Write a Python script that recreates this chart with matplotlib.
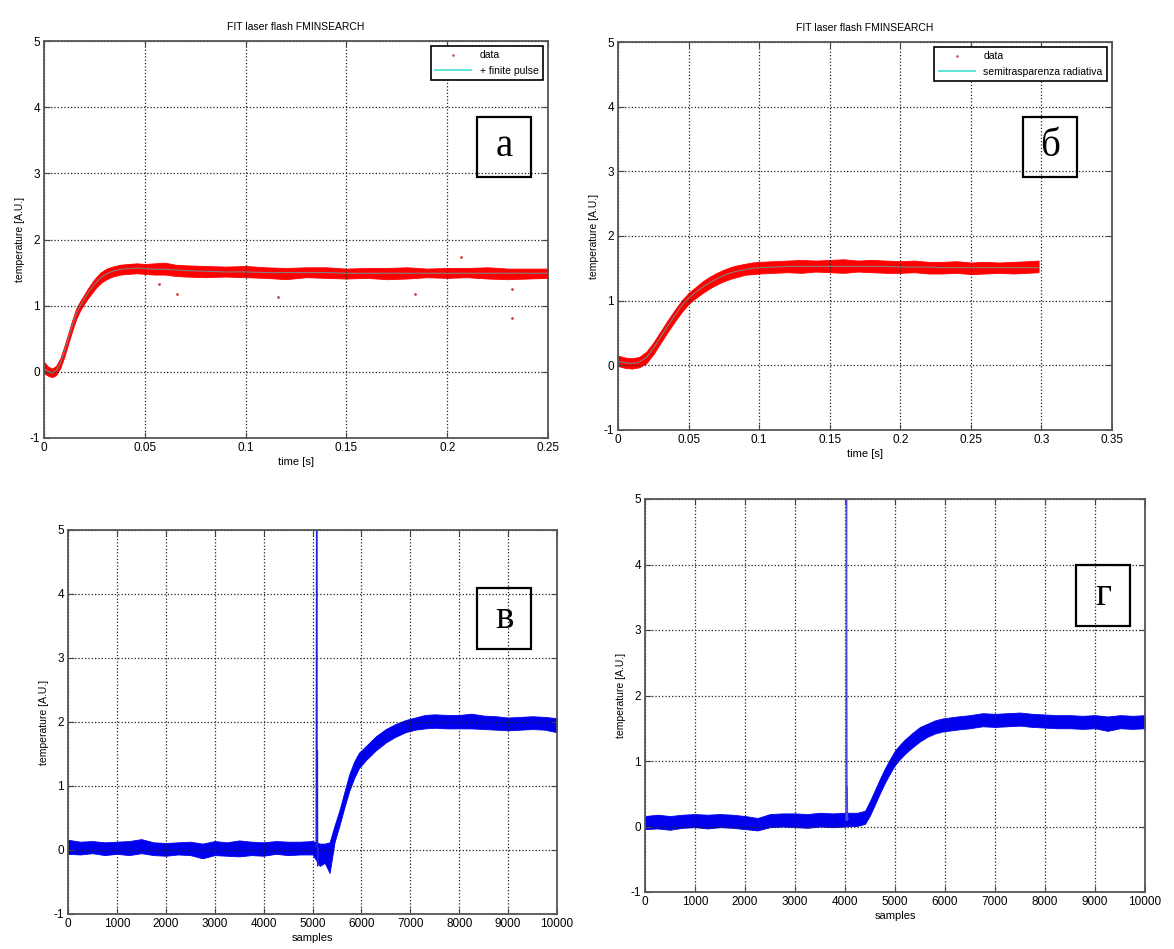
import matplotlib
matplotlib.use("Agg")
import matplotlib.pyplot as plt
from matplotlib.lines import Line2D
from matplotlib.patches import Rectangle

# ---- panel a: laser flash fit, finite pulse ----
a_t = [0, 0.002, 0.004, 0.006, 0.008, 0.010, 0.012, 0.014, 0.016, 0.018, 0.020, 0.022,
       0.025, 0.028, 0.031, 0.034, 0.038, 0.042, 0.046, 0.050, 0.055, 0.060, 0.065, 0.070,
       0.080, 0.090, 0.100, 0.110, 0.120, 0.130, 0.140, 0.150, 0.160, 0.170, 0.180, 0.190,
       0.200, 0.210, 0.220, 0.230, 0.240, 0.250]
a_fit = [0.05, 0.01, -0.02, 0.02, 0.12, 0.30, 0.50, 0.70, 0.88, 1.00, 1.10, 1.20,
         1.32, 1.42, 1.48, 1.52, 1.55, 1.56, 1.57, 1.56, 1.55, 1.55, 1.54, 1.53,
         1.52, 1.51, 1.51, 1.50, 1.50, 1.50, 1.50, 1.49, 1.49, 1.49, 1.49, 1.49,
         1.49, 1.49, 1.49, 1.49, 1.49, 1.49]
a_lo = [-0.02, -0.06, -0.08, -0.05, 0.05, 0.22, 0.42, 0.62, 0.80, 0.93, 1.03, 1.12,
        1.24, 1.34, 1.40, 1.44, 1.47, 1.48, 1.49, 1.48, 1.47, 1.47, 1.45, 1.44,
        1.43, 1.44, 1.43, 1.42, 1.40, 1.43, 1.42, 1.41, 1.42, 1.40, 1.41, 1.43,
        1.42, 1.43, 1.41, 1.40, 1.41, 1.42]
a_hi = [0.15, 0.08, 0.05, 0.09, 0.20, 0.38, 0.58, 0.78, 0.96, 1.07, 1.17, 1.27,
        1.40, 1.50, 1.56, 1.59, 1.62, 1.63, 1.64, 1.63, 1.64, 1.65, 1.62, 1.61,
        1.60, 1.59, 1.60, 1.58, 1.57, 1.58, 1.58, 1.56, 1.57, 1.57, 1.58, 1.56,
        1.57, 1.57, 1.58, 1.56, 1.56, 1.56]
a_out_t = [0.057, 0.066, 0.116, 0.184, 0.207, 0.232, 0.232]
a_out_y = [1.33, 1.17, 1.13, 1.17, 1.73, 0.81, 1.25]

# ---- panel b: laser flash fit, radiative semitransparency ----
b_t = [0, 0.005, 0.010, 0.015, 0.020, 0.025, 0.030, 0.035, 0.040, 0.045,
       0.050, 0.055, 0.060, 0.065, 0.070, 0.075, 0.080, 0.085, 0.090, 0.095,
       0.100, 0.110, 0.120, 0.130, 0.140, 0.150, 0.160, 0.170, 0.180, 0.190,
       0.200, 0.210, 0.220, 0.230, 0.240, 0.250, 0.260, 0.270, 0.280, 0.290, 0.298]
b_fit = [0.06, 0.04, 0.03, 0.05, 0.12, 0.26, 0.43, 0.60, 0.76, 0.92,
         1.04, 1.13, 1.21, 1.28, 1.34, 1.39, 1.43, 1.46, 1.48, 1.50,
         1.51, 1.52, 1.53, 1.53, 1.53, 1.53, 1.53, 1.53, 1.53, 1.53,
         1.52, 1.52, 1.52, 1.51, 1.51, 1.51, 1.51, 1.51, 1.51, 1.51, 1.51]
b_lo = [-0.01, -0.04, -0.05, -0.03, 0.03, 0.17, 0.34, 0.51, 0.67, 0.82,
        0.95, 1.04, 1.12, 1.19, 1.25, 1.30, 1.34, 1.37, 1.40, 1.41,
        1.42, 1.43, 1.44, 1.43, 1.45, 1.44, 1.43, 1.45, 1.44, 1.43,
        1.43, 1.44, 1.42, 1.42, 1.43, 1.41, 1.42, 1.43, 1.42, 1.43, 1.44]
b_hi = [0.15, 0.12, 0.11, 0.13, 0.21, 0.35, 0.52, 0.69, 0.85, 1.00,
        1.12, 1.21, 1.30, 1.37, 1.43, 1.48, 1.52, 1.55, 1.57, 1.59,
        1.60, 1.61, 1.62, 1.63, 1.62, 1.63, 1.64, 1.62, 1.63, 1.62,
        1.61, 1.62, 1.60, 1.60, 1.61, 1.59, 1.60, 1.59, 1.60, 1.61, 1.62]

# ---- panel v: raw signal, 10000 samples ----
c_x = [0, 250, 500, 750, 1000, 1250, 1500, 1750, 2000, 2250, 2500, 2750, 3000, 3250,
       3500, 3750, 4000, 4250, 4500, 4750, 5000, 5150, 5250, 5350, 5450, 5550, 5650,
       5750, 5850, 5950, 6100, 6300, 6500, 6700, 6900, 7100, 7300, 7500, 7750, 8000,
       8250, 8500, 8750, 9000, 9250, 9500, 9750, 10000]
c_mid = [0.04, 0.03, 0.04, 0.02, 0.03, 0.03, 0.04, 0.02, 0.01, 0.02, 0.03, 0.00, 0.03, 0.02,
         0.03, 0.03, 0.02, 0.04, 0.03, 0.03, 0.04, 0.00, 0.00, 0.02, 0.25, 0.50, 0.78,
         1.05, 1.25, 1.40, 1.52, 1.67, 1.78, 1.87, 1.93, 1.97, 2.00, 2.01, 2.00, 2.00,
         2.01, 1.99, 1.99, 1.97, 1.98, 1.99, 1.98, 1.96]
c_lo = [-0.06, -0.07, -0.05, -0.08, -0.06, -0.08, -0.05, -0.08, -0.09, -0.07, -0.08, -0.13, -0.08, -0.09,
        -0.10, -0.08, -0.09, -0.06, -0.08, -0.07, -0.07, -0.25, -0.20, -0.36, 0.12, 0.38, 0.66,
        0.92, 1.12, 1.28, 1.41, 1.56, 1.68, 1.77, 1.84, 1.88, 1.90, 1.91, 1.90, 1.90,
        1.90, 1.89, 1.88, 1.87, 1.88, 1.89, 1.88, 1.84]
c_hi = [0.16, 0.13, 0.14, 0.12, 0.13, 0.14, 0.17, 0.12, 0.11, 0.12, 0.13, 0.10, 0.14, 0.12,
        0.15, 0.13, 0.12, 0.14, 0.13, 0.13, 0.14, 0.10, 0.10, 0.12, 0.38, 0.62, 0.90,
        1.18, 1.38, 1.52, 1.63, 1.78, 1.89, 1.97, 2.03, 2.07, 2.11, 2.12, 2.11, 2.11,
        2.13, 2.10, 2.09, 2.07, 2.08, 2.09, 2.08, 2.06]
c_spike_x = [5075, 5085, 5095, 5100, 5105, 5110]
c_spike_y = [0.05, 5.5, 0.05, 1.55, -0.25, 0.02]

# ---- panel g: raw signal, 10000 samples ----
d_x = [0, 250, 500, 750, 1000, 1250, 1500, 1750, 2000, 2250, 2500, 2750, 3000, 3250,
       3500, 3750, 4000, 4250, 4400, 4500, 4600, 4700, 4800, 4900, 5000, 5100, 5200,
       5350, 5500, 5650, 5800, 5950, 6250, 6500, 6750, 7000, 7250, 7500, 7750, 8000,
       8250, 8500, 8750, 9000, 9250, 9500, 9750, 10000]
d_mid = [0.06, 0.07, 0.06, 0.08, 0.09, 0.08, 0.09, 0.08, 0.06, 0.03, 0.09, 0.10, 0.10, 0.09,
         0.11, 0.10, 0.11, 0.11, 0.14, 0.28, 0.45, 0.62, 0.78, 0.92, 1.05, 1.14, 1.22,
         1.32, 1.41, 1.47, 1.52, 1.55, 1.58, 1.60, 1.63, 1.62, 1.63, 1.64, 1.62, 1.61,
         1.60, 1.60, 1.59, 1.60, 1.58, 1.60, 1.59, 1.60]
d_lo = [-0.04, -0.03, -0.05, -0.02, -0.01, -0.03, -0.01, -0.02, -0.04, -0.06, -0.01, 0.00, -0.01, -0.02,
        0.00, -0.01, 0.00, 0.01, 0.04, 0.17, 0.34, 0.51, 0.67, 0.81, 0.94, 1.03, 1.11,
        1.21, 1.30, 1.37, 1.42, 1.45, 1.48, 1.50, 1.53, 1.52, 1.53, 1.54, 1.52, 1.51,
        1.50, 1.50, 1.49, 1.50, 1.46, 1.50, 1.49, 1.50]
d_hi = [0.16, 0.18, 0.16, 0.18, 0.19, 0.18, 0.19, 0.18, 0.16, 0.13, 0.19, 0.20, 0.20, 0.19,
        0.21, 0.20, 0.21, 0.21, 0.24, 0.39, 0.56, 0.73, 0.89, 1.03, 1.16, 1.25, 1.33,
        1.43, 1.52, 1.57, 1.62, 1.65, 1.68, 1.70, 1.73, 1.72, 1.73, 1.74, 1.72, 1.71,
        1.70, 1.70, 1.69, 1.70, 1.68, 1.70, 1.69, 1.70]
d_spike_x = [4020, 4030, 4040, 4045, 4050, 4055]
d_spike_y = [0.10, 5.5, 0.10, 0.60, 0.10, 0.12]

time_ticks_a = [0, 0.05, 0.1, 0.15, 0.2, 0.25]
time_ticks_b = [0, 0.05, 0.1, 0.15, 0.2, 0.25, 0.3, 0.35]
sample_ticks = [0, 1000, 2000, 3000, 4000, 5000, 6000, 7000, 8000, 9000, 10000]

W, H = 1174, 949
plt.rcParams['font.family'] = ['Liberation Sans', 'DejaVu Sans']
plt.rcParams['axes.unicode_minus'] = False
fig = plt.figure(figsize=(W / 100, H / 100), dpi=100)


def px_axes(l, t, r, b):
    return fig.add_axes([l / W, 1 - b / H, (r - l) / W, (b - t) / H])


def style(ax, xlim, xticks, xlabel):
    ax.set_xlim(*xlim)
    ax.set_ylim(-1, 5)
    ax.set_xticks(xticks)
    ax.set_xticklabels([('%g' % v) for v in xticks])
    ax.set_yticks(range(-1, 6))
    ax.grid(True, linestyle=':', color='#222222', linewidth=0.9)
    ax.tick_params(direction='in', top=True, right=True, labelsize=8.5, length=4,
                   color='#444444', pad=3)
    for s in ax.spines.values():
        s.set_color('#555555')
        s.set_linewidth(1.3)
    ax.set_ylabel('temperature [A.U.]', fontsize=7.5, labelpad=3)
    ax.set_xlabel(xlabel, fontsize=8, labelpad=2)


def tag(letter, l, t, r, b):
    fig.patches.append(Rectangle((l / W, 1 - b / H), (r - l) / W, (b - t) / H,
                                 transform=fig.transFigure, fill=False,
                                 edgecolor='black', linewidth=1.6, zorder=10))
    fig.text((l + r) / 2 / W, 1 - (t + b) / 2 / H, letter, family='Liberation Serif',
             fontsize=28, ha='center', va='center', zorder=11)


def fit_legend(ax, label):
    handles = [Line2D([], [], linestyle='none', marker='.', markersize=2, color='#cc6666'),
               Line2D([], [], color='#40e0d0', linewidth=1.2)]
    leg = ax.legend(handles, ['data', label], loc='upper right', fancybox=False,
                    edgecolor='black', fontsize=7.5, handlelength=3.5,
                    borderaxespad=0.5, framealpha=1)
    leg.get_frame().set_linewidth(1.2)


# panel a
ax1 = px_axes(44, 41, 548, 438)
ax1.fill_between(a_t, a_lo, a_hi, color='red', edgecolor='red', linewidth=0.6)
ax1.plot(a_out_t, a_out_y, '.', color='#d04040', markersize=2)
ax1.plot(a_t, a_fit, color='cyan', linewidth=0.8, alpha=0.5)
style(ax1, (0, 0.25), time_ticks_a, 'time [s]')
ax1.set_title('FIT laser flash FMINSEARCH', fontsize=7.5, pad=8)
fit_legend(ax1, '+ finite pulse')

# panel b
ax2 = px_axes(618, 42, 1112, 430)
ax2.fill_between(b_t, b_lo, b_hi, color='red', edgecolor='red', linewidth=0.6)
ax2.plot(b_t, b_fit, color='cyan', linewidth=0.8, alpha=0.5)
style(ax2, (0, 0.35), time_ticks_b, 'time [s]')
ax2.set_title('FIT laser flash FMINSEARCH', fontsize=7.5, pad=8)
fit_legend(ax2, 'semitrasparenza radiativa')

# panel v
ax3 = px_axes(68, 530, 557, 914)
ax3.fill_between(c_x, c_lo, c_hi, color='#0000ee', edgecolor='#0000ee', linewidth=0.6)
ax3.plot(c_spike_x, c_spike_y, color='#2020e0', linewidth=1.0)
style(ax3, (0, 10000), sample_ticks, 'samples')

# panel g
ax4 = px_axes(645, 499, 1145, 892)
ax4.fill_between(d_x, d_lo, d_hi, color='#0000ee', edgecolor='#0000ee', linewidth=0.6)
ax4.plot(d_spike_x, d_spike_y, color='#4a4ae0', linewidth=1.0)
style(ax4, (0, 10000), sample_ticks, 'samples')

tag('а', 477, 117, 531, 177)
tag('б', 1023, 117, 1077, 177)
tag('в', 477, 588, 531, 649)
tag('г', 1076, 565, 1130, 626)

fig.savefig('out.png', dpi=100, facecolor='white')
